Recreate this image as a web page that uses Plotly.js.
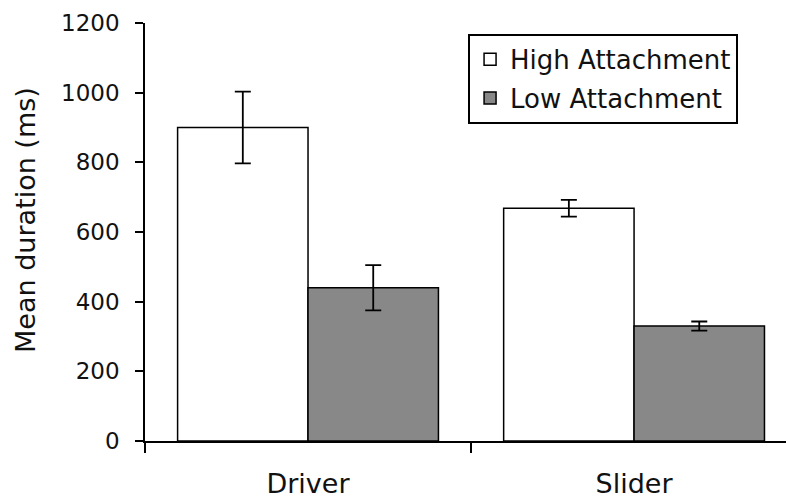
<!DOCTYPE html>
<html>
<head>
<meta charset="utf-8">
<script src="https://cdn.plot.ly/plotly-3.0.1.min.js"></script>
<style>html,body{margin:0;padding:0;background:#fff;}#chart{width:786px;height:498px;}</style>
</head>
<body>
<div id="chart"></div>
<script>
var categories = ["Driver", "Slider"];
var seriesNames = ["High Attachment", "Low Attachment"];
var highValues = [900, 668];
var highErrors = [103, 24];
var lowValues = [440, 330];
var lowErrors = [65, 13];
var yTickValues = [0, 200, 400, 600, 800, 1000, 1200];
var yTitle = "Mean duration (ms)";

var FONT = "DejaVu Sans, sans-serif";

var traces = [
  {
    type: "bar", name: seriesNames[0], x: categories, y: highValues,
    legendgroup: "a",
    marker: {color: "#ffffff", line: {color: "#000", width: 1.5}},
    error_y: {type: "data", array: highErrors, visible: true, color: "#000", thickness: 1.8, width: 8}
  },
  {
    type: "bar", name: seriesNames[1], x: categories, y: lowValues,
    legendgroup: "b",
    marker: {color: "#888888", line: {color: "#000", width: 1.5}},
    error_y: {type: "data", array: lowErrors, visible: true, color: "#000", thickness: 1.8, width: 8}
  }
];

var layout = {
  width: 786, height: 498,
  margin: {l: 145, r: 0, t: 23, b: 57, pad: 0},
  paper_bgcolor: "#fff", plot_bgcolor: "#fff",
  barmode: "group", bargap: 0.2, bargroupgap: 0,
  showlegend: true,
  font: {family: FONT, color: "#111"},
  legend: {
    x: 0.504, y: 0.974, xanchor: "left", yanchor: "top",
    bordercolor: "#000", borderwidth: 2, bgcolor: "#fff",
    font: {family: FONT, size: 26, color: "#111"},
    traceorder: "grouped", tracegroupgap: 2,
    itemclick: false
  },
  xaxis: {
    type: "category", range: [-0.5, 1.466],
    showline: true, linecolor: "#000", linewidth: 1.8,
    ticks: "outside", tickson: "boundaries", ticklen: 10, tickwidth: 1.8, tickcolor: "#000",
    showgrid: false, zeroline: false,
    tickfont: {family: FONT, size: 27, color: "#111"},
    ticklabelstandoff: 18
  },
  yaxis: {
    range: [0, 1200], tickvals: yTickValues, ticktext: yTickValues.map(String),
    showline: true, linecolor: "#000", linewidth: 1.8,
    ticks: "outside", ticklen: 8, tickwidth: 1.8, tickcolor: "#000",
    showgrid: false, zeroline: false,
    tickfont: {family: FONT, size: 23, color: "#111"},
    ticklabelstandoff: 11
  },
  annotations: [{
    text: yTitle, xref: "paper", yref: "paper",
    x: (25.5 - 145) / 641, y: (441 - 220.5) / 418,
    xanchor: "center", yanchor: "middle", textangle: -90, showarrow: false,
    font: {family: FONT, size: 27, color: "#111"}
  }]
};

Plotly.newPlot("chart", traces, layout, {staticPlot: true, displayModeBar: false});
</script>
</body>
</html>
